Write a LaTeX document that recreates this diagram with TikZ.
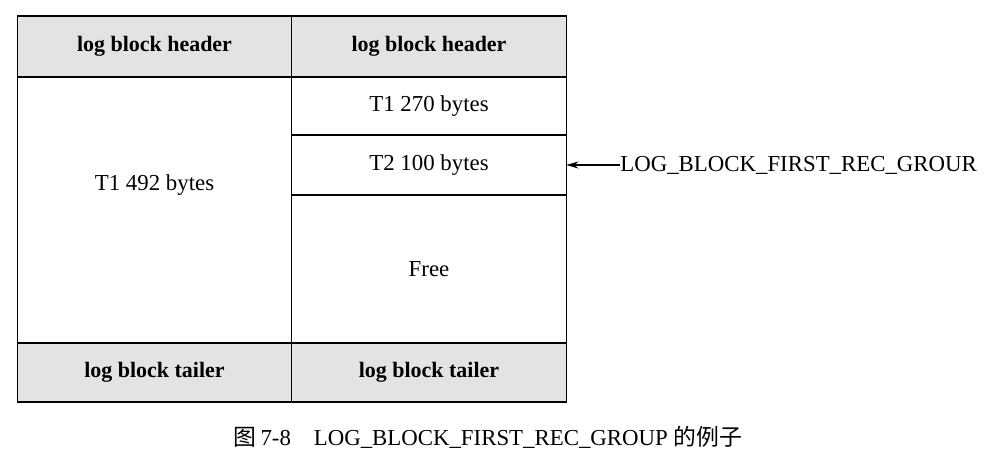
\documentclass[tikz,border=0pt]{standalone}
\usepackage{fontspec}
\setmainfont{Liberation Serif}
\newfontfamily\cjk{Noto Sans CJK SC}
\usetikzlibrary{arrows.meta}

\begin{document}
\begin{tikzpicture}
        [
          x=0.02cm, y=-0.02cm,
          every node/.style={align=center, font=\fontsize{13}{15}\selectfont},
          cell/.style={draw, line width=0.8pt, inner sep=0pt, outer sep=0pt,
            minimum width=5.49cm},
          shaded/.style={cell, fill=gray!22,
            font=\fontsize{12.5}{15}\selectfont\bfseries},
          pointer/.style={-{Stealth[length=7pt,width=4pt]}, line width=0.7pt}
        ]
        \useasboundingbox (0,0) rectangle (985,449);

        % header row
        \node[shaded, minimum height=1.22cm] (hdrL) at (154.5,46.5) {log block header};
        \node[shaded, minimum height=1.22cm] (hdrR) at (429,46.5) {log block header};

        % body
        \node[cell, minimum height=5.32cm,
          label={[yshift=0.5cm]center:T1 492 bytes}] (bodyL) at (154.5,210) {};
        \node[cell, minimum height=1.16cm] (recA) at (429,106) {T1 270 bytes};
        \node[cell, minimum height=1.2cm] (recB) at (429,165) {T2 100 bytes};
        \node[cell, minimum height=2.96cm] (free) at (429,269) {Free};

        % tailer row
        \node[shaded, minimum height=1.18cm] (tlrL) at (154.5,372.5) {log block tailer};
        \node[shaded, minimum height=1.18cm] (tlrR) at (429,372.5) {log block tailer};

        % pointer to the first record group
        \node[anchor=west, inner sep=0pt] (firstrec) at (620,165) {LOG\_BLOCK\_FIRST\_REC\_GROUR};
        \draw[pointer] (firstrec.west) -- (recB.east);

        \node (caption) at (488,437) {{\cjk 图}\,7-8\quad LOG\_BLOCK\_FIRST\_REC\_GROUP {\cjk 的例子}};
    \end{tikzpicture}
\end{document}
